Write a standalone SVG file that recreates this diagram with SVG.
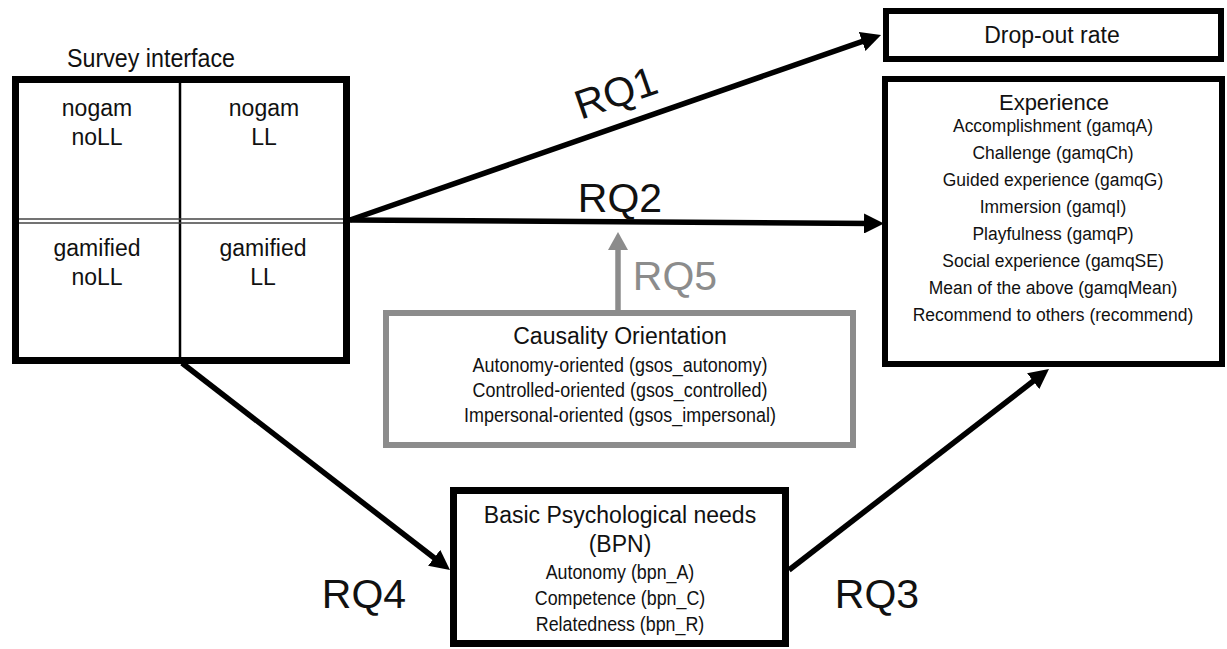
<svg xmlns="http://www.w3.org/2000/svg" width="1227" height="649" viewBox="0 0 1227 649">
<defs>
<style>
text{font-family:"Liberation Sans",Arial,sans-serif;fill:#111;text-anchor:middle}
.box{fill:#fff;stroke:#000;stroke-width:7}
.gbox{fill:#fff;stroke:#8c8c8c;stroke-width:6}
.cell{font-size:23px}
.title{font-size:23px}
.item{font-size:19.5px}
.eitem{font-size:19px}
.bitem{font-size:20.5px}
.rq{font-size:41px}
.arrow{stroke:#000;stroke-width:5.5;fill:none;marker-end:url(#ah)}
.garrow{stroke:#8c8c8c;stroke-width:5.5;fill:none;marker-end:url(#gah)}
</style>
<marker id="ah" viewBox="0 0 20 20" refX="8" refY="10" markerWidth="20" markerHeight="20" markerUnits="userSpaceOnUse" orient="auto">
<path d="M0,0 L20,10 L0,20 Z" fill="#000"/>
</marker>
<marker id="gah" viewBox="0 0 18 20" refX="6" refY="10" markerWidth="18" markerHeight="20" markerUnits="userSpaceOnUse" orient="auto">
<path d="M0,0 L18,10 L0,20 Z" fill="#8c8c8c"/>
</marker>
</defs>
<rect width="1227" height="649" fill="#fff"/>

<g id="connectors">
<line class="arrow" x1="350" y1="220" x2="869.7" y2="38.9"/>
<line class="arrow" x1="350" y1="220" x2="872" y2="223.5"/>
<line class="arrow" x1="182" y1="363" x2="440.5" y2="562.7"/>
<line class="arrow" x1="789" y1="570" x2="1039.5" y2="376.3"/>
<line class="garrow" x1="618" y1="312" x2="618" y2="244"/>
<text class="rq" transform="translate(620.5,106) rotate(-19.2)" x="0" y="0">RQ1</text>
<text class="rq" x="620" y="212">RQ2</text>
<text class="rq" x="877" y="608">RQ3</text>
<text class="rq" x="364" y="608">RQ4</text>
<text class="rq" x="675" y="290" style="fill:#8c8c8c">RQ5</text>
</g>

<g id="survey">
<text x="151" y="67" style="font-size:25px" textLength="168" lengthAdjust="spacingAndGlyphs">Survey interface</text>
<rect class="box" x="15.5" y="79.5" width="331" height="281"/>
<line x1="180" y1="80" x2="180" y2="361" stroke="#000" stroke-width="2.5"/>
<line x1="19" y1="219" x2="343" y2="219" stroke="#444" stroke-width="1.6"/>
<line x1="19" y1="223" x2="343" y2="223" stroke="#444" stroke-width="1.6"/>
<text class="cell" x="97" y="116">nogam</text>
<text class="cell" x="97" y="145">noLL</text>
<text class="cell" x="264" y="116">nogam</text>
<text class="cell" x="264" y="145">LL</text>
<text class="cell" x="97" y="256">gamified</text>
<text class="cell" x="97" y="285">noLL</text>
<text class="cell" x="263" y="256">gamified</text>
<text class="cell" x="263" y="285">LL</text>
</g>

<g id="dropout">
<rect class="box" x="886" y="11" width="335" height="48" style="stroke-width:6"/>
<text class="title" x="1052" y="43">Drop-out rate</text>
</g>

<g id="experience">
<rect class="box" x="885" y="79" width="337" height="285" style="stroke-width:6"/>
<text x="1054" y="110" style="font-size:22px">Experience</text>
<g transform="translate(1053,0) scale(0.92,1)">
<text class="eitem" x="0" y="132">Accomplishment (gamqA)</text>
<text class="eitem" x="0" y="159">Challenge (gamqCh)</text>
<text class="eitem" x="0" y="186">Guided experience (gamqG)</text>
<text class="eitem" x="0" y="213">Immersion (gamqI)</text>
<text class="eitem" x="0" y="240">Playfulness (gamqP)</text>
<text class="eitem" x="0" y="267">Social experience (gamqSE)</text>
<text class="eitem" x="0" y="294">Mean of the above (gamqMean)</text>
<text class="eitem" x="0" y="321">Recommend to others (recommend)</text>
</g>
</g>

<g id="causality">
<rect class="gbox" x="386" y="313" width="467" height="132"/>
<text class="title" x="620" y="344">Causality Orientation</text>
<g transform="translate(620,0) scale(0.92,1)">
<text class="item" x="0" y="372">Autonomy-oriented (gsos_autonomy)</text>
<text class="item" x="0" y="397">Controlled-oriented (gsos_controlled)</text>
<text class="item" x="0" y="422">Impersonal-oriented (gsos_impersonal)</text>
</g>
</g>

<g id="bpn">
<rect class="box" x="453.5" y="490.5" width="332" height="153"/>
<text class="title" x="620" y="523">Basic Psychological needs</text>
<text class="title" x="620" y="552">(BPN)</text>
<g transform="translate(620,0) scale(0.87,1)">
<text class="bitem" x="0" y="579">Autonomy (bpn_A)</text>
<text class="bitem" x="0" y="605">Competence (bpn_C)</text>
<text class="bitem" x="0" y="631">Relatedness (bpn_R)</text>
</g>
</g>
</svg>
